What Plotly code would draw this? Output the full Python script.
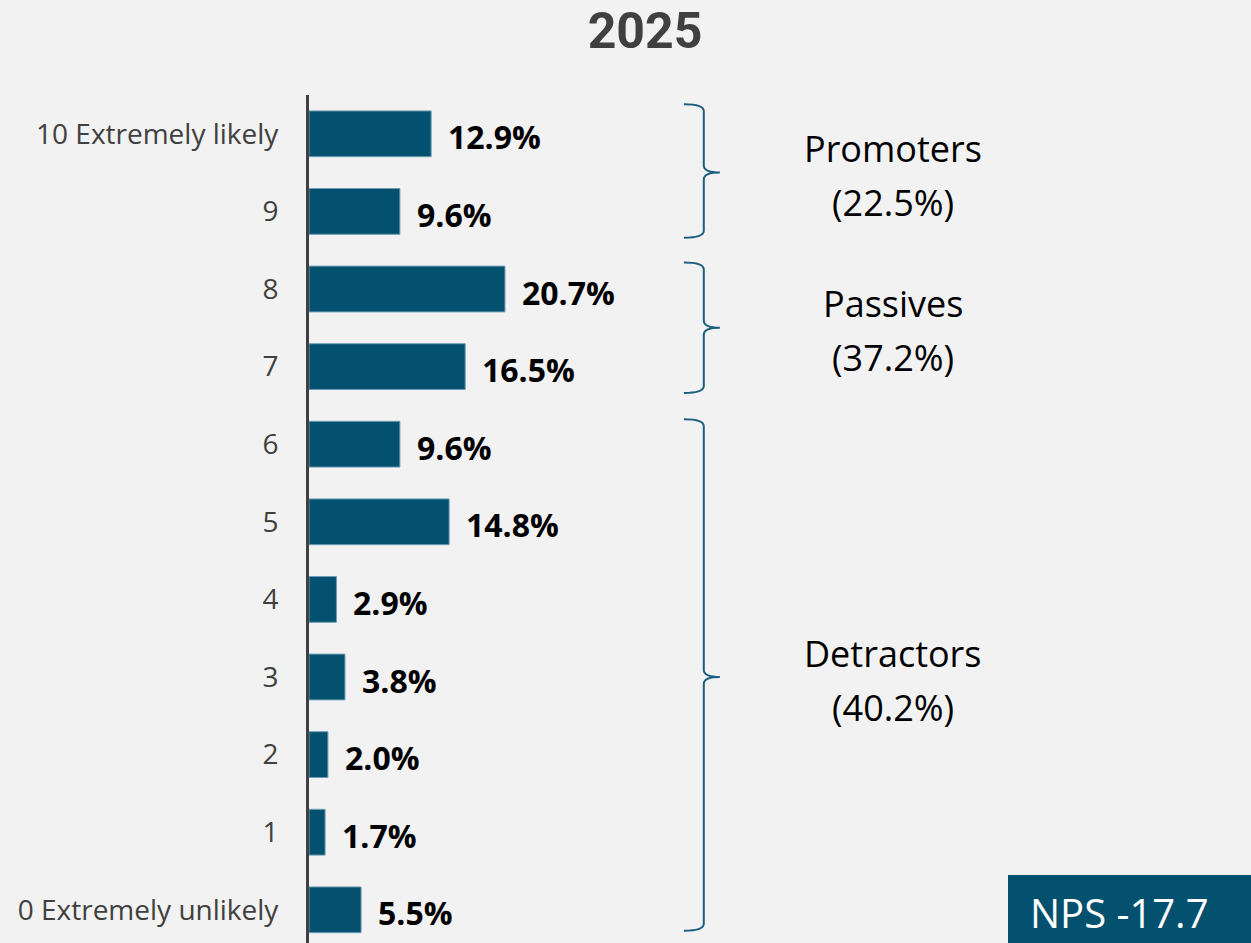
import plotly.graph_objects as go

# Likelihood-to-recommend distribution (share of respondents, %)
scores = [10, 9, 8, 7, 6, 5, 4, 3, 2, 1, 0]
score_labels = ["10 Extremely likely", "9", "8", "7", "6", "5", "4", "3", "2", "1",
                "0 Extremely unlikely"]
shares = [12.9, 9.6, 20.7, 16.5, 9.6, 14.8, 2.9, 3.8, 2.0, 1.7, 5.5]

# NPS groups: name, group share, highest and lowest score in the group
group_names = ["Promoters", "Passives", "Detractors"]
group_shares = [22.5, 37.2, 40.2]
group_top = [10, 8, 6]
group_bottom = [9, 7, 0]
nps_value = -17.7

BAR = "#04516F"
BRACE = "#1B5E7E"
FONT = "Open Sans"

W, H = 1251, 943
ML, MT = 309, 95
X_MAX = 99.5

fig = go.Figure()
fig.add_trace(go.Bar(
    x=shares, y=scores, orientation="h",
    marker=dict(color=BAR, line=dict(color="#6E9DB5", width=1)),
    width=0.59, hoverinfo="skip",
))

# value labels at the end of each bar
for s, v in zip(scores, shares):
    fig.add_annotation(
        x=v, y=s, xref="x", yref="y", text=f"<b>{v:.1f}%</b>",
        showarrow=False, xanchor="left", yanchor="middle", xshift=15, yshift=-3,
        font=dict(family=FONT, size=32, color="#000000"),
    )

# curly braces and group labels
bx_left, bx_mid, bx_tip = 39.6, 41.7, 43.4
r = 0.09
pads = [(0.12, 0.16), (0.16, 0.16), (0.18, 0.23)]
for name, gs, top_s, bot_s, (pt, pb) in zip(group_names, group_shares, group_top,
                                            group_bottom, pads):
    top = top_s + 0.5 - pt
    bot = bot_s - 0.5 + pb
    mid = (top_s + bot_s) / 2
    path = (f"M {bx_left},{top} Q {bx_mid},{top} {bx_mid},{top - r} "
            f"L {bx_mid},{mid + r} Q {bx_mid},{mid} {bx_tip},{mid} "
            f"Q {bx_mid},{mid} {bx_mid},{mid - r} "
            f"L {bx_mid},{bot + r} Q {bx_mid},{bot} {bx_left},{bot}")
    fig.add_shape(type="path", path=path, xref="x", yref="y",
                  line=dict(color=BRACE, width=2))
    for line_text, shift in ((name, 24), (f"({gs:.1f}%)", -30)):
        fig.add_annotation(
            x=61.7, y=mid, xref="x", yref="y", text=line_text,
            showarrow=False, xanchor="center", yanchor="middle", yshift=shift,
            font=dict(family=FONT, size=36, color="#000000"),
        )

# NPS score box
fig.add_shape(type="rect", xref="paper", yref="paper",
              x0=(1008 - ML) / (W - ML), x1=1.02, y0=-0.02, y1=(H - 875) / (H - MT),
              fillcolor=BAR, line=dict(width=0), layer="above")
fig.add_annotation(
    x=(1028 - ML) / (W - ML), y=(H - 912) / (H - MT), xref="paper", yref="paper",
    text=f"NPS {nps_value:.1f}", showarrow=False, xanchor="left", yanchor="middle",
    font=dict(family=FONT, size=40, color="#FFFFFF"),
)

fig.update_layout(
    width=W, height=H,
    margin=dict(l=ML, r=0, t=MT, b=0),
    paper_bgcolor="#F2F2F2", plot_bgcolor="#F2F2F2",
    showlegend=False,
    title=dict(text="<b>2025</b>", x=645 / W, xanchor="center", xref="container",
               y=1 - 30 / H, yanchor="middle", yref="container",
               font=dict(family="Roboto", size=50, color="#404040")),
    xaxis=dict(range=[0, X_MAX], visible=False, fixedrange=True),
    yaxis=dict(
        range=[10.5 - (H - MT) / 77.6, 10.5],
        tickvals=scores, ticktext=score_labels, ticks="",
        tickfont=dict(family=FONT, size=28, color="#404040"),
        ticklabelstandoff=22,
        showgrid=False, zeroline=False,
        showline=True, linecolor="#404040", linewidth=3,
        fixedrange=True,
    ),
)

fig.write_html("out.html")
